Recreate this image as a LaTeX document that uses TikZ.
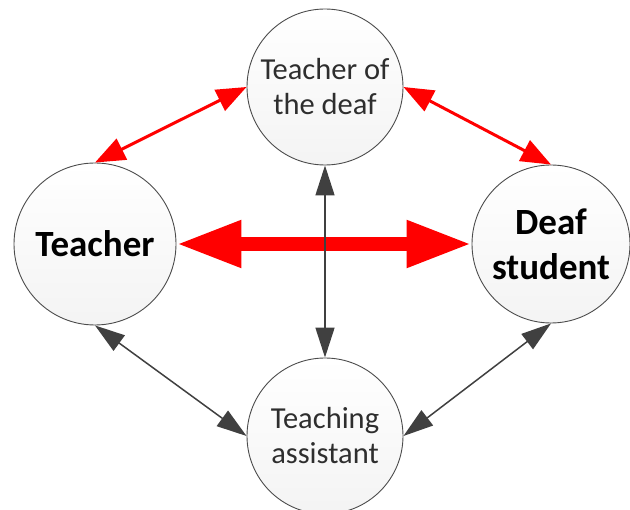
\documentclass[tikz,border=0pt]{standalone}
\usepackage{fontspec}
\setmainfont{Carlito}
\usetikzlibrary{arrows.meta}
\begin{document}
\begin{tikzpicture}[x=1pt,y=-1pt,
  bubble/.style={circle, inner sep=0pt, minimum size=156pt, align=center,
    shade, top color=white, bottom color=gray!9, draw=black!70, line width=0.9pt},
  regtext/.style={font=\fontsize{30.5}{35}\selectfont, text=black!82},
  boldtext/.style={font=\fontsize{37}{45}\selectfont\bfseries, text=black},
  thinred/.style={draw=red, line width=3pt, {Triangle[length=30pt,width=23pt]}-{Triangle[length=30pt,width=23pt]}},
  thickred/.style={draw=red, line width=14pt, {Triangle[length=65pt,width=44pt]}-{Triangle[length=65pt,width=44pt]}},
  grayarrow/.style={draw=black!75, line width=1.5pt, {Triangle[length=30pt,width=19pt]}-{Triangle[length=30pt,width=19pt]}}
]
\useasboundingbox (0,0) rectangle (630,510);
\node[bubble, regtext] (tod) at (325,87) {Teacher of\\the deaf};
\node[bubble, boldtext, minimum size=162pt] (teacher) at (95,244) {Teacher};
\node[bubble, boldtext, minimum size=158pt] (deaf) at (551,244) {Deaf\\student};
\node[bubble, regtext] (ta) at (325,436) {Teaching\\assistant};
\draw[thickred] (teacher.east) -- (deaf.west);
\draw[grayarrow] (tod.south) -- (ta.north);
\draw[thinred] (teacher.north) -- (tod.west);
\draw[thinred] (tod.east) -- (deaf.north);
\draw[grayarrow] (teacher.south) -- (ta.west);
\draw[grayarrow] (deaf.south) -- (ta.east);
\end{tikzpicture}
\end{document}
